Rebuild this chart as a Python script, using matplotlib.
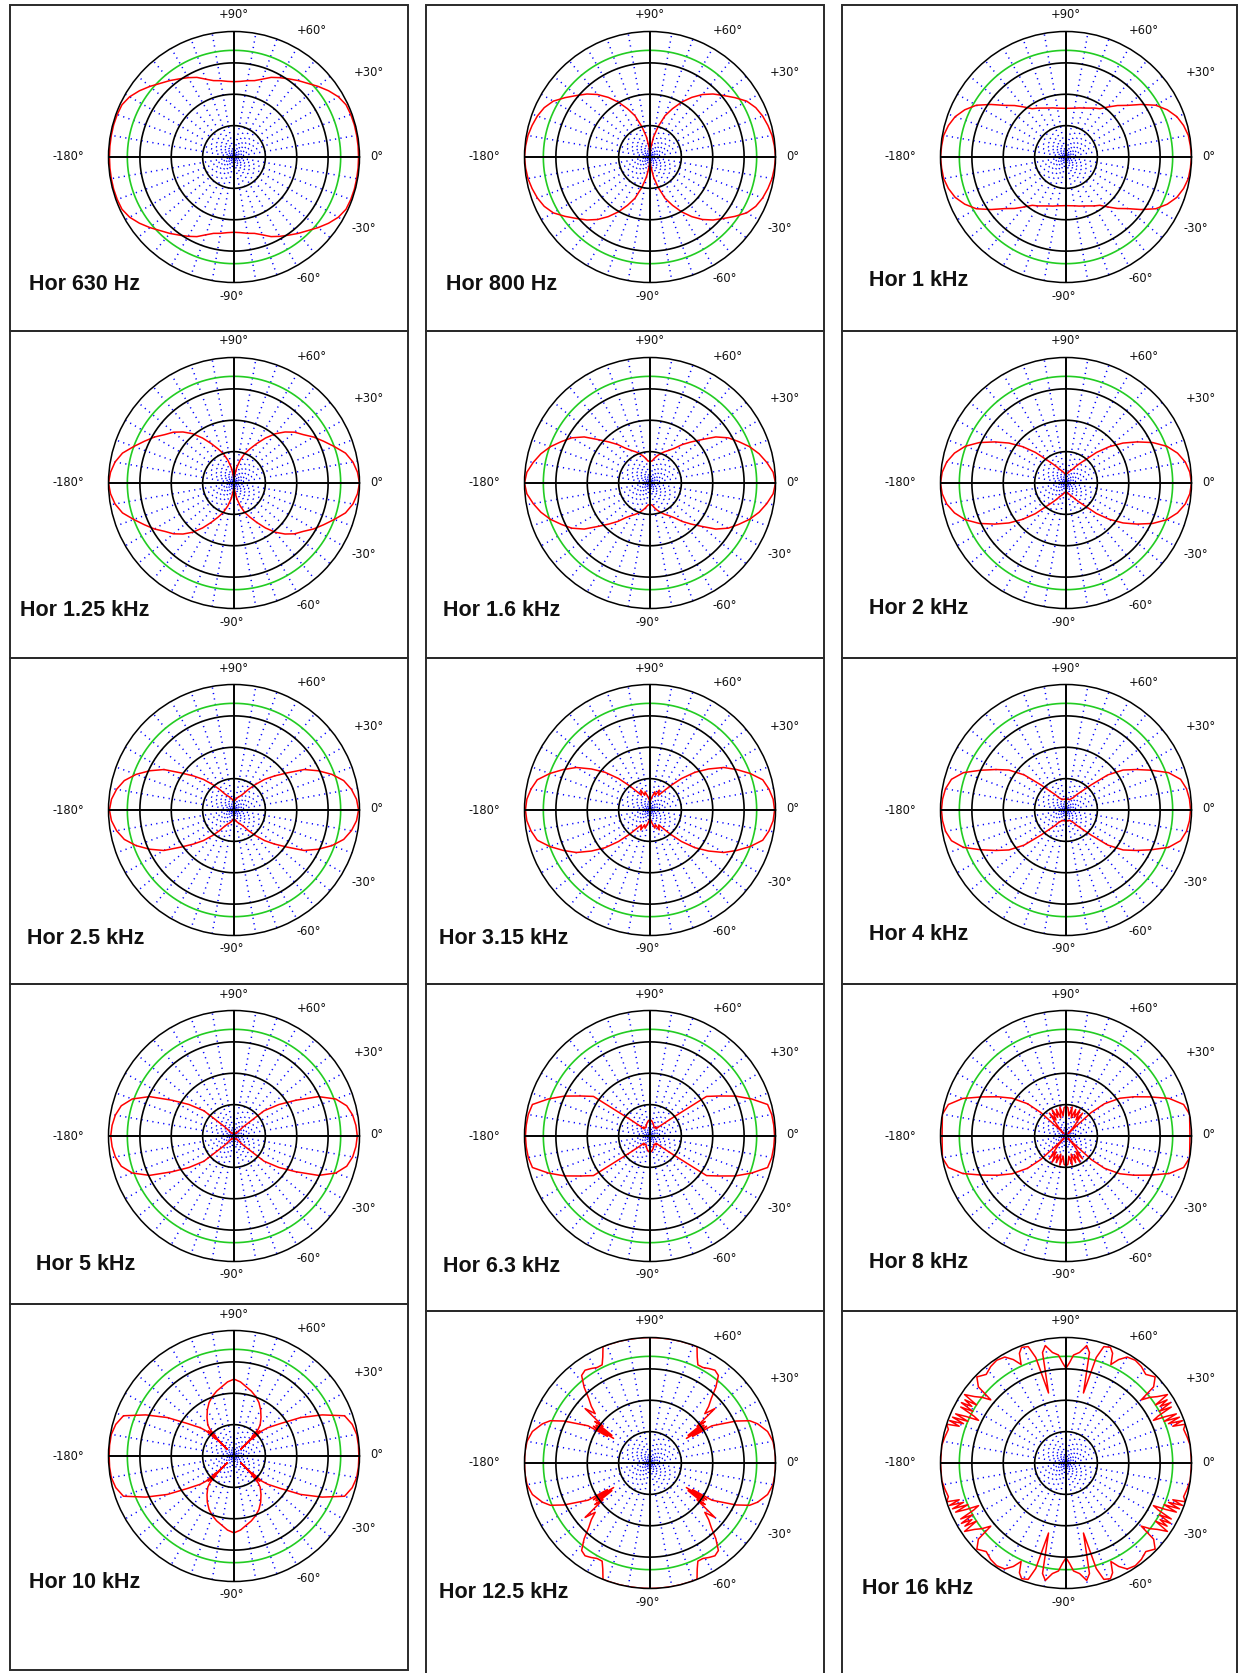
import numpy as np
import matplotlib
matplotlib.use('Agg')
import matplotlib.pyplot as plt
from matplotlib.patches import Rectangle

W, H = 1238, 1673

titles = ['Hor 630 Hz', 'Hor 800 Hz', 'Hor 1 kHz',
          'Hor 1.25 kHz', 'Hor 1.6 kHz', 'Hor 2 kHz',
          'Hor 2.5 kHz', 'Hor 3.15 kHz', 'Hor 4 kHz',
          'Hor 5 kHz', 'Hor 6.3 kHz', 'Hor 8 kHz',
          'Hor 10 kHz', 'Hor 12.5 kHz', 'Hor 16 kHz']

angle_labels = ['+90°', '+60°', '+30°', '0°', '-30°', '-60°', '-90°', '-180°']

# one quadrant (0..+90 deg) of each response in dB, mirrored to the other three
ang_5 = [0, 5, 10, 15, 20, 25, 30, 35, 40, 45, 50, 55, 60, 65, 70, 75, 80, 85, 90]

hor_630 = [-0.3, -0.3, -0.3, -0.3, -0.4, -0.6, -1.6, -3.2, -5.0, -6.8, -8.2, -9.6,
           -10.8, -12.0, -13.6, -14.8, -15.3, -15.8, -16.0]
hor_800 = [0.0, -0.2, -0.5, -1.1, -1.8, -2.8, -4.4, -7.0, -9.5, -11.6, -14.0, -16.8,
           -19.8, -23.0, -26.0, -30.0, -33.5, -37.0, -39.5]
hor_1k = [0.0, -0.2, -0.4, -1.2, -2.4, -4.4, -7.0, -10.8, -14.4, -16.8, -19.2, -21.2,
          -22.0, -22.8, -23.4, -23.8, -24.2, -24.4, -24.5]
hor_1k25 = [0.0, -0.5, -1.5, -3.2, -6.0, -8.5, -10.7, -13.1, -14.8, -17.0, -19.5, -22.5,
            -25.5, -28.0, -30.0, -32.5, -35.0, -37.5, -39.0]
hor_1k6 = [0.0, -0.6, -2.2, -4.0, -6.2, -8.8, -11.2, -14.4, -18.5, -21.5, -24.0, -26.5,
           -28.0, -29.0, -30.0, -31.0, -32.0, -33.0, -33.0]
hor_2k = [0.0, -0.4, -1.4, -3.2, -5.8, -9.5, -13.8, -17.8, -22.0, -26.2, -30.3, -32.5,
          -34.0, -35.2, -35.8, -36.3, -36.8, -37.0, -37.2]
hor_2k5 = [-0.3, -0.8, -2.0, -3.8, -6.8, -10.4, -14.2, -19.4, -23.1, -26.2, -29.4, -32.0,
           -34.0, -35.0, -35.5, -36.0, -36.5, -37.0, -37.0]
hor_3k15 = [-0.3, -0.6, -1.5, -2.8, -6.0, -9.5, -12.9, -17.2, -21.3, -25.8, -30.0, -33.0,
            -34.5, -33.0, -35.0, -34.0, -35.5, -36.5, -37.5]
hor_4k = [-0.3, -0.5, -1.0, -2.2, -5.2, -10.0, -14.2, -17.8, -22.6, -28.7, -32.2, -34.0,
          -35.5, -36.0, -36.5, -36.5, -36.5, -36.5, -37.0]
hor_5k = [-0.7, -1.0, -1.6, -2.8, -5.5, -10.3, -17.2, -22.5, -27.5, -36.0, -39.0, -39.0,
          -39.0, -39.0, -39.0, -39.0, -39.0, -39.0, -39.0]
hor_6k3 = [-0.3, -0.4, -0.6, -1.2, -5.5, -9.9, -14.5, -18.0, -32.0, -35.5, -37.0, -36.5,
           -37.0, -37.0, -36.5, -36.0, -35.5, -35.0, -35.0]

ang_8k = [0, 5, 10, 15, 20, 25, 30, 35, 40, 43, 45, 47, 50, 54, 58, 62, 66, 70, 74, 78,
          82, 86, 90]
hor_8k = [-0.5, -0.4, 0.0, -1.2, -5.0, -10.5, -15.0, -19.0, -24.0, -29.0, -37.0, -39.0,
          -36.0, -31.0, -34.0, -30.5, -33.5, -31.0, -34.0, -30.5, -33.5, -31.0, -30.5]

ang_10k = [0, 5, 10, 15, 20, 25, 30, 35, 40, 42, 43, 44, 45, 46, 47, 48, 50, 55, 60, 65,
           70, 75, 80, 85, 90]
hor_10k = [-0.2, -0.2, -0.3, -1.0, -2.5, -9.0, -15.5, -22.0, -26.0, -28.0, -32.0, -28.5,
           -37.0, -29.0, -31.5, -28.5, -27.0, -25.0, -23.0, -21.2, -19.8, -18.6, -17.6,
           -16.3, -15.5]

ang_12k5 = [0, 5, 10, 15, 20, 23, 26, 29, 31, 32, 33, 34, 35, 36, 37, 38, 40, 42, 44,
            46.5, 49, 52, 55, 58, 61, 64, 66, 68, 72, 76, 80, 85, 90]
hor_12k5 = [0.0, 0.0, -0.2, -1.2, -3.5, -5.5, -9.5, -14.5, -17.0, -24.0, -18.5, -26.0,
            -19.0, -25.0, -18.0, -21.0, -13.0, -16.5, -14.0, -11.6, -8.0, -4.6, -3.9,
            -4.5, -5.2, -5.2, -3.0, 0.0, 0.0, 0.0, 0.0, 0.0, 0.0]

ang_16k = [0, 8, 12, 16, 18, 19, 20, 21, 22, 23, 24, 25, 26, 27, 28, 29, 30, 31, 32, 33,
           34, 36, 38, 40, 41, 44, 48, 52, 56, 60, 63, 65.5, 67, 69, 72, 74, 76, 78, 80,
           83, 86, 88, 90]
hor_16k = [0.0, 0.0, -0.5, -1.0, 0.0, -4.0, -0.5, -5.0, -1.0, -6.0, -1.5, -5.0, -9.0,
           -7.0, -2.0, -6.0, -1.5, -5.0, -2.0, -6.0, -1.0, -4.0, -6.0, -8.7, -3.0, -0.5,
           -2.0, -1.0, -0.5, -1.0, -3.0, -5.5, -2.0, -0.5, -1.0, -5.0, -17.0, -4.0, -2.0,
           -4.5, -5.5, -8.0, -9.8]

curves = [(ang_5, hor_630), (ang_5, hor_800), (ang_5, hor_1k),
          (ang_5, hor_1k25), (ang_5, hor_1k6), (ang_5, hor_2k),
          (ang_5, hor_2k5), (ang_5, hor_3k15), (ang_5, hor_4k),
          (ang_5, hor_5k), (ang_5, hor_6k3), (ang_8k, hor_8k),
          (ang_10k, hor_10k), (ang_12k5, hor_12k5), (ang_16k, hor_16k)]

# layout in pixels
col_x = [(10, 408), (426, 824), (842, 1237)]
row_y = [[(5, 331), (331, 658), (658, 984), (984, 1304), (1304, 1670)],
         [(5, 331), (331, 658), (658, 984), (984, 1311), (1311, 1690)],
         [(5, 331), (331, 658), (658, 984), (984, 1311), (1311, 1690)]]
title_dx = [19, 20, 27, 10, 17, 27, 17, 13, 27, 26, 17, 27, 19, 13, 20]
title_dy = [128, 128, 124, 127, 127, 125, 128, 128, 125, 129, 130, 127, 126, 129, 126]
label_off = [(0, -142), (78, -127), (135, -84), (143, -1), (130, 72), (75, 122),
             (-2, 139), (-166, 0)]
R = 125.5


def mirror(ang, db):
    a = np.asarray(ang, float)
    d = np.asarray(db, float)
    th = np.concatenate([a, 180 - a[::-1], 180 + a, 360 - a[::-1]])
    r = np.concatenate([d, d[::-1], d, d[::-1]])
    return np.radians(th), r


fig = plt.figure(figsize=(W / 100, H / 100), dpi=100)
fig.patch.set_facecolor('white')

tt = np.linspace(0, 2 * np.pi, 721)

for i, title in enumerate(titles):
    row, col = divmod(i, 3)
    left, right = col_x[col]
    top, bottom = row_y[col][row]
    fig.add_artist(Rectangle((left / W, 1 - bottom / H), (right - left) / W,
                             (bottom - top) / H, transform=fig.transFigure,
                             fill=False, ec='#2a2a2a', lw=1.4))
    cx, cy = left + 224, top + 152
    ax = fig.add_axes([(cx - R) / W, 1 - (cy + R) / H, 2 * R / W, 2 * R / H],
                      projection='polar')
    ax.set_ylim(-40, 0)
    ax.set_xticks([])
    ax.set_yticks([])
    ax.grid(False)
    ax.spines['polar'].set_edgecolor('black')
    ax.spines['polar'].set_linewidth(1.1)
    ax.spines['polar'].set_zorder(6)

    # dotted blue spokes every 10 deg, dots staggered from spoke to spoke
    for k, deg in enumerate(range(0, 360, 10)):
        if deg % 90:
            ax.plot([np.radians(deg)] * 2, [-40, 0], color='#0000ff', lw=1.1,
                    ls=((k * 1.3) % 3.6, (0.8, 2.8)), zorder=1)
    ax.plot(tt, np.full_like(tt, -6.0), color='#22cc22', lw=1.2, zorder=2)

    th, r = mirror(*curves[i])
    ax.plot(th, r, color='#ff0000', lw=1.1, zorder=3)

    for lev in (-30, -20, -10):
        ax.plot(tt, np.full_like(tt, lev), color='black', lw=1.2, zorder=4)
    for deg in (0, 90, 180, 270):
        ax.plot([np.radians(deg)] * 2, [-40, 0], color='black', lw=1.4, zorder=4)

    for txt, (dx, dy) in zip(angle_labels, label_off):
        fig.text((cx + dx) / W, 1 - (cy + dy) / H, txt, fontsize=8.3,
                 family='DejaVu Sans', ha='center', va='center', color='#111111')

    fig.text((left + title_dx[i]) / W, 1 - (cy + title_dy[i]) / H, title,
             fontsize=15.5, fontweight='bold', family=['Liberation Sans', 'DejaVu Sans'],
             ha='left', va='center', color='#111111')

fig.savefig('out.png', dpi=100, facecolor='white')
